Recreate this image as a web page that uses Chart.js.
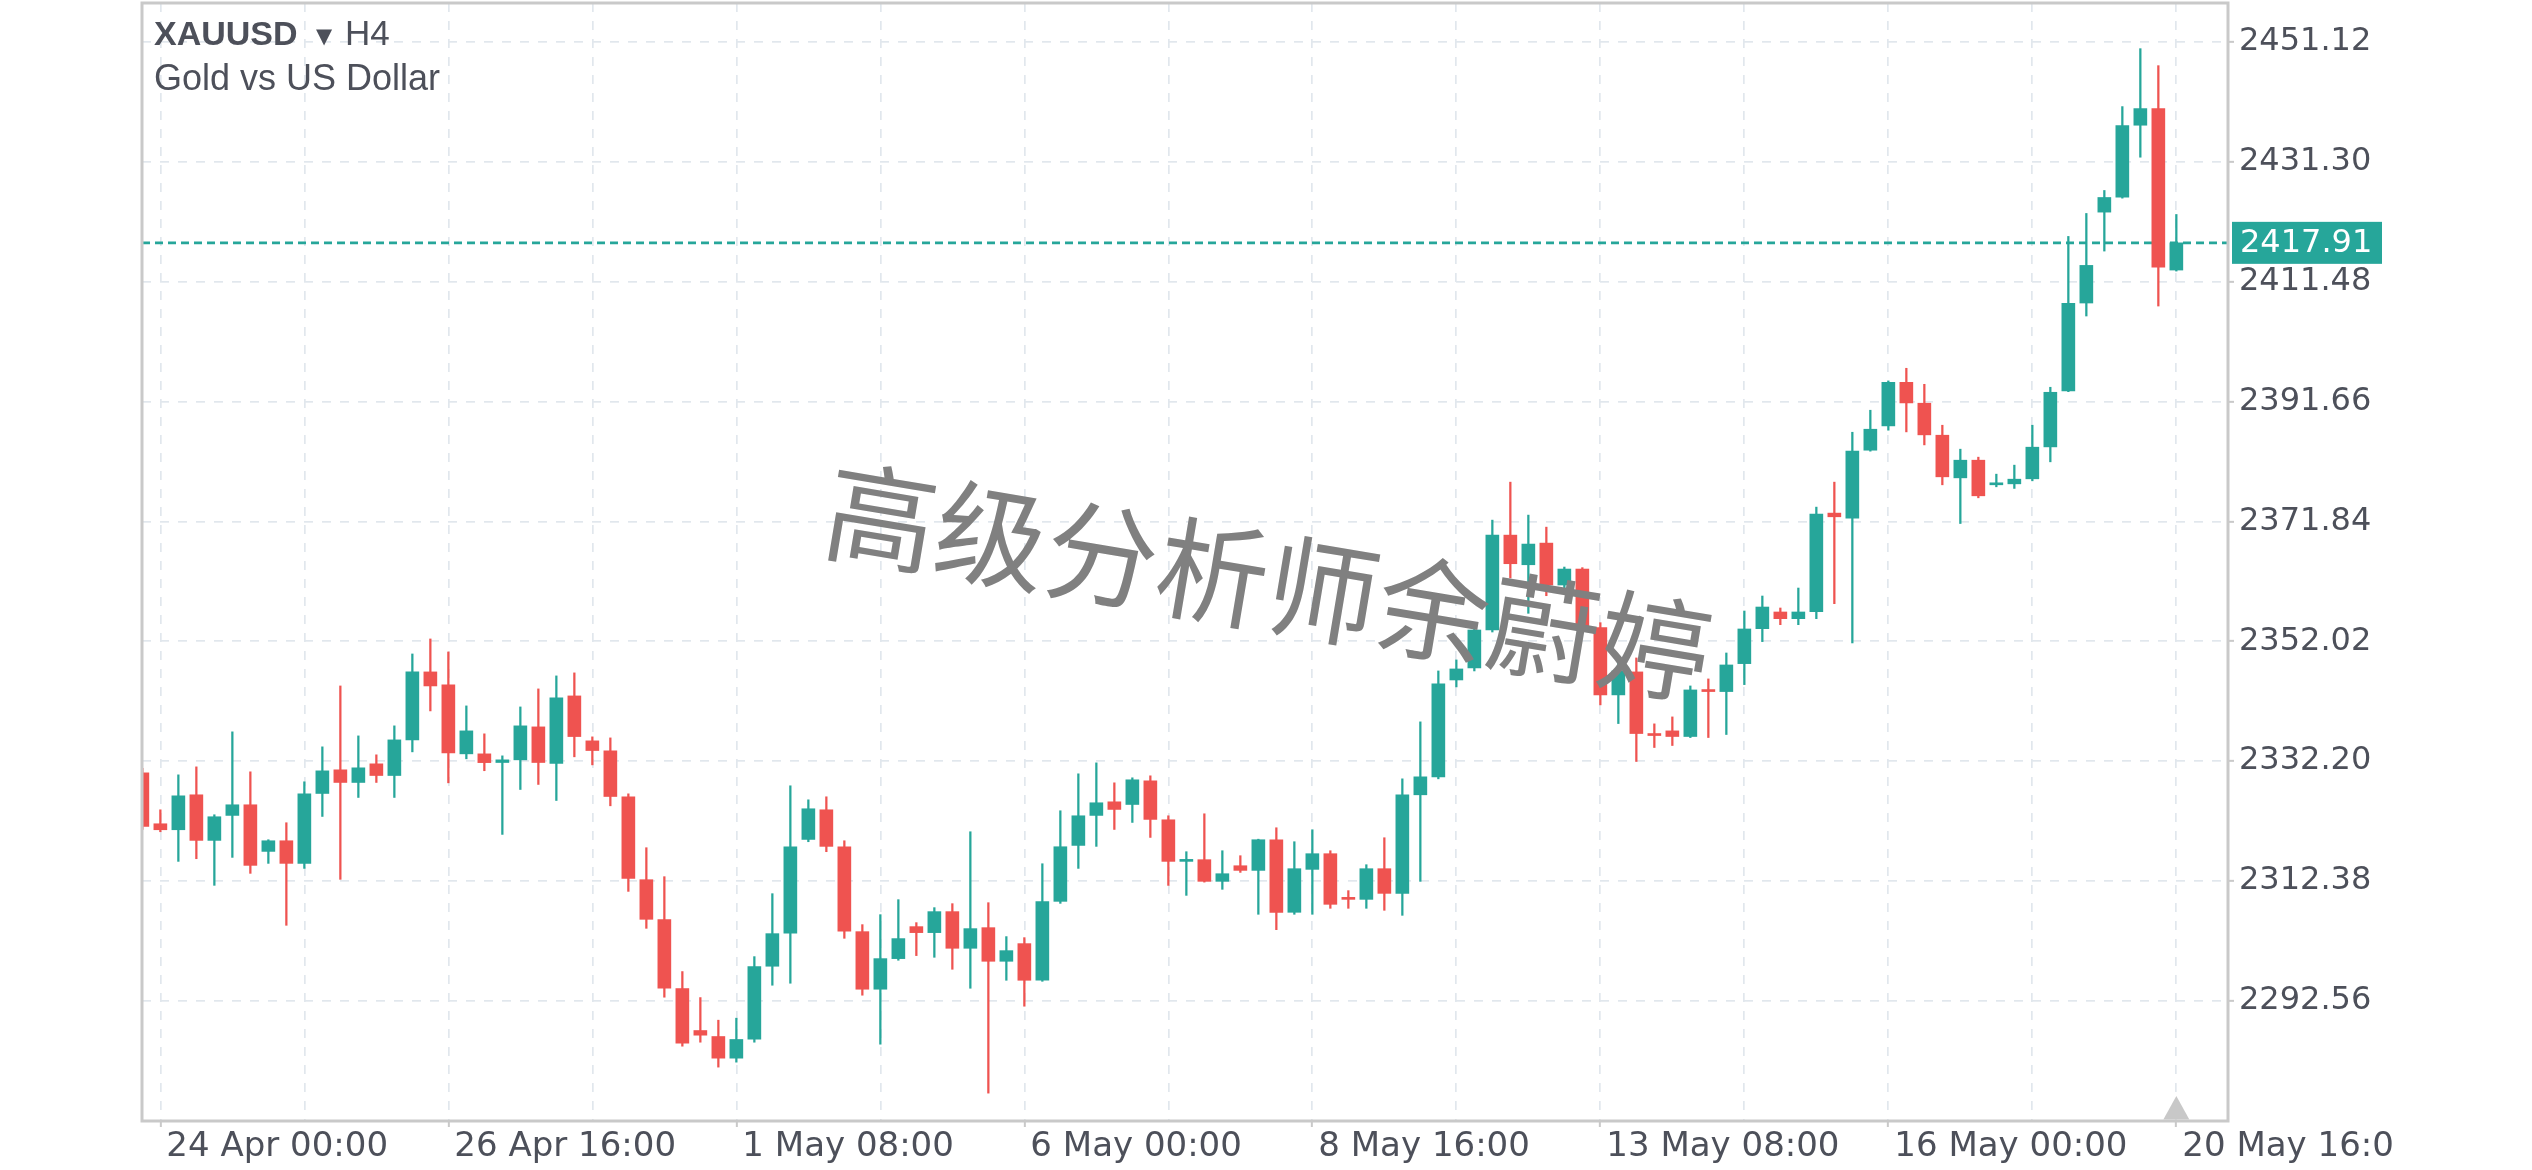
<!DOCTYPE html>
<html>
<head>
<meta charset="utf-8">
<script src="https://cdn.jsdelivr.net/npm/chart.js@4.4.1/dist/chart.umd.min.js"></script>
<style>
html,body{margin:0;padding:0;background:#ffffff;overflow:hidden}
#wrap{position:relative;width:2532px;height:1170px}
</style>
</head>
<body>
<div id="wrap"><canvas id="c"></canvas></div>
<script>
// ---- data (XAUUSD H4, bar index 0 = 23 Apr 20:00) ----
const opens = [
2330.27,2321.85,2320.86,2326.64,2319.10,2323.23,2324.99,2317.28,2319.04,2315.30,
2326.86,2330.77,2328.68,2331.76,2329.83,2335.72,2346.96,2344.81,2333.41,2333.41,
2331.98,2332.42,2337.87,2331.81,2342.99,2335.56,2333.91,2326.31,2312.60,2305.99,
2294.60,2287.66,2286.67,2283.09,2286.23,2298.29,2303.74,2319.26,2324.16,2318.05,
2304.01,2294.49,2299.55,2304.84,2303.85,2307.32,2301.26,2304.67,2299.11,2302.03,
2295.97,2309.02,2318.27,2323.23,2325.48,2325.04,2328.95,2322.51,2315.63,2315.91,
2312.33,2314.91,2314.14,2319.21,2307.21,2314.31,2316.90,2309.52,2309.35,2314.42,
2310.34,2326.64,2329.61,2345.63,2347.62,2353.89,2369.58,2364.68,2368.26,2361.33,
2363.97,2354.28,2343.16,2346.96,2336.72,2337.21,2336.28,2343.98,2343.71,2348.33,
2354.11,2356.87,2355.76,2356.92,2373.22,2372.39,2383.62,2387.64,2394.85,2391.39,
2386.10,2379.05,2381.97,2377.90,2378.06,2378.89,2384.17,2393.42,2407.96,2422.99,
2425.46,2437.36,2440.11,2413.41];
const highs = [
2331.00,2324.16,2329.94,2331.26,2323.34,2337.05,2330.44,2319.21,2322.02,2328.79,
2334.57,2344.64,2336.38,2333.25,2338.04,2349.93,2352.41,2350.26,2341.34,2336.72,
2333.08,2341.17,2344.15,2346.30,2346.80,2336.22,2336.05,2326.80,2317.89,2313.10,
2297.41,2293.11,2289.37,2289.70,2299.88,2310.29,2328.13,2325.81,2326.31,2319.04,
2305.17,2306.82,2309.30,2305.50,2307.98,2308.64,2320.53,2308.80,2303.19,2303.02,
2315.24,2324.00,2330.11,2331.92,2328.62,2329.45,2329.78,2323.17,2317.23,2323.50,
2317.39,2316.57,2319.30,2321.19,2318.88,2320.86,2317.39,2310.79,2315.08,2319.54,
2329.28,2338.70,2347.12,2348.94,2354.72,2372.06,2378.34,2372.89,2370.90,2364.30,
2364.20,2355.10,2349.50,2349.27,2338.37,2339.52,2344.64,2345.80,2350.09,2357.03,
2359.51,2357.53,2360.83,2374.21,2378.34,2386.59,2390.23,2395.08,2397.17,2394.52,
2387.75,2383.79,2382.47,2379.66,2381.15,2387.75,2394.03,2418.97,2422.77,2426.57,
2440.44,2450.02,2447.21,2422.60];
const lows = [
2320.90,2320.53,2315.63,2316.07,2311.67,2316.29,2313.65,2315.30,2305.06,2314.47,
2323.06,2312.66,2326.20,2328.68,2326.20,2333.74,2340.51,2328.62,2332.59,2330.62,
2320.09,2327.52,2328.35,2325.70,2332.92,2331.59,2324.82,2310.67,2304.56,2293.17,
2285.07,2285.73,2281.61,2282.43,2285.73,2295.15,2295.48,2318.88,2317.23,2302.91,
2293.50,2285.40,2299.28,2300.05,2299.77,2297.79,2294.65,2277.31,2295.97,2291.68,
2295.80,2308.69,2314.47,2318.11,2320.91,2322.07,2319.59,2311.66,2310.01,2312.20,
2311.01,2313.81,2306.88,2304.34,2306.88,2306.88,2307.87,2307.87,2307.87,2307.54,
2306.71,2312.33,2329.28,2344.48,2347.12,2353.56,2362.50,2356.65,2359.56,2359.95,
2354.00,2341.51,2338.42,2332.15,2334.46,2334.79,2336.10,2336.11,2336.61,2344.86,
2351.97,2354.77,2354.77,2355.76,2358.24,2351.75,2383.46,2386.93,2386.65,2384.50,
2377.90,2371.50,2375.75,2377.57,2377.30,2378.56,2381.70,2393.30,2405.81,2416.55,
2425.30,2432.07,2407.46,2413.24];
const closes = [
2321.41,2320.86,2326.47,2319.10,2323.01,2324.99,2314.97,2319.04,2315.30,2326.81,
2330.60,2328.68,2331.10,2329.83,2335.72,2346.96,2344.64,2333.58,2337.21,2331.96,
2332.42,2338.04,2331.98,2342.66,2336.27,2333.96,2326.36,2312.82,2306.05,2294.65,
2285.57,2286.89,2283.09,2286.18,2298.23,2303.68,2318.05,2324.33,2318.11,2304.07,
2294.49,2299.55,2302.86,2303.85,2307.32,2301.26,2304.51,2299.11,2300.87,2295.97,
2308.97,2318.05,2323.17,2325.32,2324.22,2329.12,2322.57,2315.63,2315.96,2312.33,
2313.59,2314.14,2319.21,2307.21,2314.42,2316.90,2308.53,2309.35,2314.42,2310.34,
2326.64,2329.61,2344.97,2347.45,2353.89,2369.58,2364.85,2368.10,2361.33,2363.97,
2354.44,2343.16,2347.12,2336.77,2336.44,2336.28,2343.98,2343.71,2348.11,2354.06,
2357.69,2355.76,2356.87,2373.05,2372.61,2383.46,2387.09,2394.85,2391.44,2386.16,
2379.22,2381.97,2376.08,2378.12,2378.83,2384.12,2393.20,2407.90,2414.18,2425.41,
2437.30,2440.11,2413.90,2417.91];
const lastPrice = 2417.91;
const yTickValues = [2292.56,2312.38,2332.20,2352.02,2371.84,2391.66,2411.48,2431.30,2451.12];
const xGridIndex = [1,9,17,25,33,41,49,57,65,73,81,89,97,105,113];
const xLabelIndex = [1,17,33,49,65,81,97,113];
const xLabels = ['24 Apr 00:00','26 Apr 16:00','1 May 08:00','6 May 00:00','8 May 16:00','13 May 08:00','16 May 00:00','20 May 16:0'];
const titleSymbol = 'XAUUSD';
const titleFrame = 'H4';
const subtitle = 'Gold vs US Dollar';
const watermark = '高级分析师余蔚婷';

// ---- view ----
const X_MIN = -0.02, X_MAX = 115.87, Y_MIN = 2272.70, Y_MAX = 2457.57;
const UP = '#26a69a', DOWN = '#ef5350';
const TEXT = '#4d505a';
const GRID = '#e1e7ed';
const AXIS = '#c9c9c9';

const colors = closes.map((c, i) => c >= opens[i] ? UP : DOWN);
const bodyData = opens.map((o, i) => ({x: i, y: [o, closes[i]]}));
const wickData = highs.map((h, i) => ({x: i, y: [lows[i], h]}));
const priceLine = [{x: X_MIN, y: lastPrice}, {x: X_MAX, y: lastPrice}];

const deco = {
  id: 'deco',
  afterDatasetsDraw(chart) {
    const ctx = chart.ctx;
    ctx.save();
    ctx.translate(1268, 582);
    ctx.rotate(9.5 * Math.PI / 180);
    ctx.font = '112px "Noto Sans CJK SC"';
    ctx.fillStyle = '#808080';
    ctx.textAlign = 'center';
    ctx.textBaseline = 'middle';
    ctx.fillText(watermark, 0, 0);
    ctx.restore();
  },
  afterDraw(chart) {
    const ctx = chart.ctx, a = chart.chartArea, xs = chart.scales.x, ys = chart.scales.y;
    ctx.save();
    // frame
    ctx.strokeStyle = AXIS;
    ctx.lineWidth = 3;
    ctx.strokeRect(a.left, a.top, a.right - a.left, a.bottom - a.top);
    // current bar marker
    const tx = xs.getPixelForValue(opens.length - 1);
    ctx.fillStyle = '#c8c8c8';
    ctx.beginPath();
    ctx.moveTo(tx - 13, a.bottom - 1.5);
    ctx.lineTo(tx + 13, a.bottom - 1.5);
    ctx.lineTo(tx, a.bottom - 25);
    ctx.closePath();
    ctx.fill();
    // price label
    const py = ys.getPixelForValue(lastPrice);
    ctx.fillStyle = UP;
    ctx.fillRect(a.right + 4, py - 21, 150, 42);
    ctx.fillStyle = '#ffffff';
    ctx.font = '32px "DejaVu Sans"';
    ctx.textAlign = 'left';
    ctx.textBaseline = 'middle';
    ctx.fillText(lastPrice.toFixed(2), a.right + 12, py + 1);
    // titles
    ctx.fillStyle = TEXT;
    ctx.textBaseline = 'alphabetic';
    ctx.font = 'bold 34px "Liberation Sans"';
    ctx.fillText(titleSymbol, 154, 45);
    ctx.font = '21px "DejaVu Sans"';
    ctx.fillText('▼', 316, 43);
    ctx.font = '35px "Liberation Sans"';
    ctx.fillText(titleFrame, 345, 45);
    ctx.font = '36px "Liberation Sans"';
    ctx.fillText(subtitle, 154, 90);
    ctx.restore();
  }
};

new Chart(document.getElementById('c'), {
  type: 'bar',
  data: {
    datasets: [
      {type: 'bar', data: bodyData, backgroundColor: colors, barThickness: 13, grouped: false, minBarLength: 2, borderWidth: 0, order: 1, clip: 0},
      {type: 'bar', data: wickData, backgroundColor: colors, barThickness: 1.6, grouped: false, borderWidth: 0, order: 2, clip: 0},
      {type: 'line', data: priceLine, borderColor: UP, borderWidth: 2.6, borderDash: [8, 5], pointRadius: 0, fill: false, order: 3, clip: 0}
    ]
  },
  options: {
    responsive: true,
    maintainAspectRatio: false,
    animation: false,
    layout: {padding: {left: 142, top: 3, right: 0, bottom: 0}},
    plugins: {legend: {display: false}, tooltip: {enabled: false}},
    scales: {
      x: {
        type: 'linear', min: X_MIN, max: X_MAX, offset: false,
        afterBuildTicks: s => { s.ticks = xGridIndex.map(v => ({value: v})); },
        afterFit: s => { s.height = 49; s.paddingLeft = 0; s.paddingRight = 0; },
        grid: {offset: false, color: GRID, lineWidth: 1.7, drawTicks: true, tickLength: 6, tickWidth: 2,
               tickColor: c => (c.tick && xLabelIndex.includes(c.tick.value)) ? AXIS : 'rgba(0,0,0,0)'},
        border: {display: false, dash: [9, 9]},
        ticks: {autoSkip: false, maxRotation: 0, minRotation: 0, align: 'start', padding: 0, labelOffset: 6, color: TEXT,
                font: {family: 'DejaVu Sans', size: 34},
                callback: v => { const k = xLabelIndex.indexOf(v); return k >= 0 ? xLabels[k] : ''; }}
      },
      y: {
        type: 'linear', position: 'right', min: Y_MIN, max: Y_MAX,
        afterBuildTicks: s => { s.ticks = yTickValues.map(v => ({value: v})); },
        afterFit: s => { s.width = 304; s.paddingTop = 0; s.paddingBottom = 0; },
        grid: {color: GRID, lineWidth: 1.7, drawTicks: true, tickLength: 6, tickWidth: 2, tickColor: AXIS},
        border: {display: false, dash: [9, 9]},
        ticks: {padding: 5, color: TEXT, font: {family: 'DejaVu Sans', size: 32},
                callback: v => Number(v).toFixed(2)}
      }
    }
  },
  plugins: [deco]
});
</script>
</body>
</html>
